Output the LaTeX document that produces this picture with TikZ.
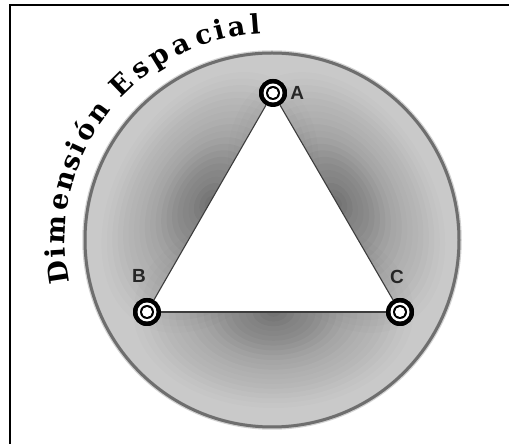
\documentclass[tikz,border=0pt]{standalone}
\usepackage{fontspec}
\setsansfont{Liberation Sans}
\newfontfamily\arcfont{DejaVu Serif}
\usetikzlibrary{positioning,calc}
\definecolor{discgray}{RGB}{201, 201, 201}
\definecolor{rimgray}{RGB}{110, 110, 110}
\definecolor{edgegray}{RGB}{60, 60, 60}

\begin{document}
\begin{tikzpicture}[x=1pt, y=1pt,
    vertex/.style={circle, fill=black, minimum size=28pt, inner sep=0pt},
    vlabel/.style={inner sep=0pt, text=black!85, font=\sffamily\bfseries\fontsize{19}{19}\selectfont},
    arcletter/.style={anchor=base, inner sep=0pt, font=\arcfont\bfseries\fontsize{27}{27}\selectfont},
    edge/.style={edgegray, line width=1.1pt},
    rim/.style={rimgray, line width=3pt}]

\useasboundingbox (0,0) rectangle (509,444);

% Frame (top and left only)
\draw[line width=2pt] (9.5,0) -- (9.5,439) -- (509,439);

% Disc
\coordinate (O) at (272,204);
\fill[discgray] (O) circle (187);

% Vertices
\node[vertex] (A) at (273,351) {};
\node[vertex] (B) at (147,132) {};
\node[vertex] (C) at (400,132) {};

% Shadow around the triangle: nested soft ellipses on each side
\begin{scope}
  \clip (O) circle (187);
  \foreach \p/\q/\rot in {A/B/60.1, B/C/0, C/A/-59.9} {
    \begin{scope}[shift={($(\p)!0.5!(\q)$)}, rotate=\rot]
      \foreach \k [evaluate=\k as \op using 0.036*(0.3+0.7*(21-\k)/20)] in {1,...,20}
        \fill[black, opacity=\op] (0,0) ellipse ({7*\k} and {4.8*\k});
    \end{scope}
  }
\end{scope}
\fill[white] (A.center) -- (B.center) -- (C.center) -- cycle;

% Rim
\draw[rimgray!60, line width=4.5pt, opacity=0.5] (O) circle (187.5);
\draw[rim] (O) circle (187);

% Triangle sides
\draw[edge] (A) -- (B);
\draw[edge] (B) -- (C);
\draw[edge] (C) -- (A);

% Vertex rings
\foreach \v in {A,B,C} {
  \fill[black] (\v) circle (14);
  \fill[white] (\v) circle (9.5);
  \fill[black] (\v) circle (7);
  \fill[white] (\v) circle (5);
}

% Vertex labels
\node[vlabel, right=3pt of A] (lA) {A};
\node[vlabel, above=15pt of B, xshift=-8pt] (lB) {B};
\node[vlabel, above=14pt of C, xshift=-3pt] (lC) {C};

% Curved title
\foreach \ang/\ch in {188.7/D, 183.4/i, 177.2/m, 169.8/e, 164/n, 159/s, 154.7/i, 149.8/ó, 143.6/n,
                      134/E, 127.5/s, 121.5/p, 115/a, 108.5/c, 104/i, 99.5/a, 94.5/l} {
  \node[arcletter, rotate=\ang-90] at ([shift={(\ang:207)}]O) {\ch};
}

\end{tikzpicture}
\end{document}
